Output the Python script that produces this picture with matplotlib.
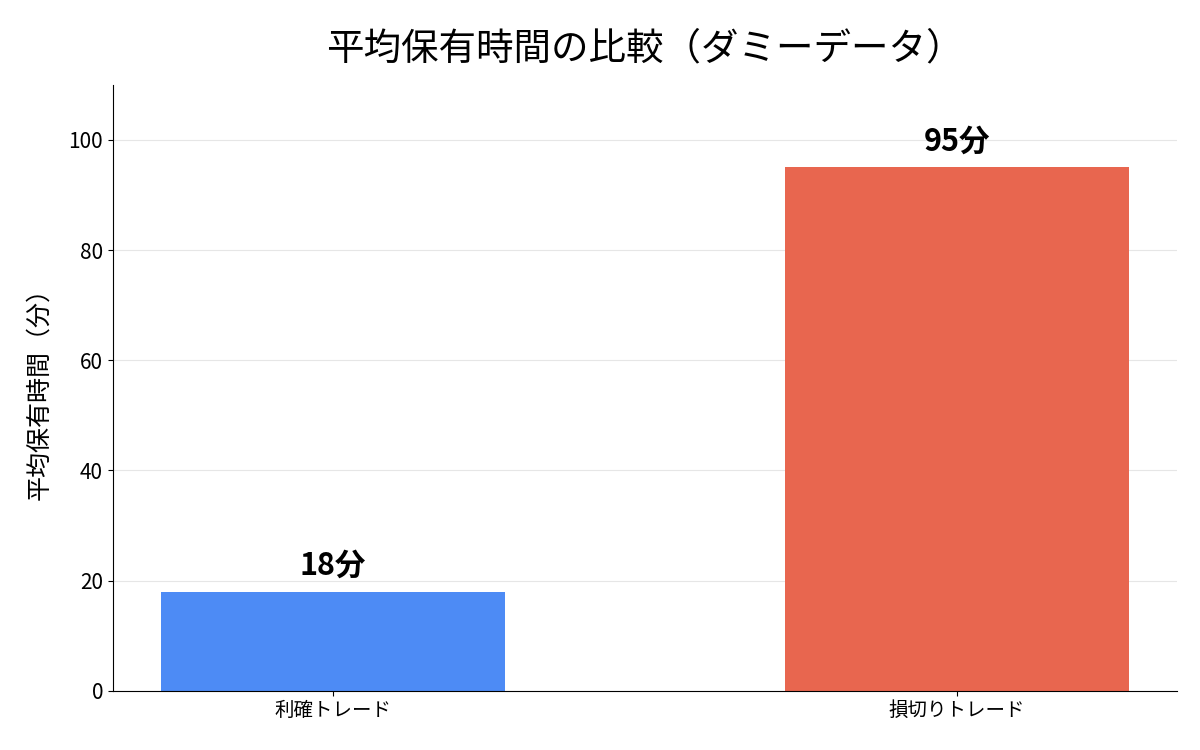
import matplotlib
matplotlib.use('Agg')
import matplotlib.pyplot as plt

plt.rcParams['font.family'] = ['Noto Sans CJK JP', 'DejaVu Sans']

categories = ['利確トレード', '損切りトレード']
hold_minutes = [18, 95]
bar_colors = ['#4d8bf5', '#e8664f']

fig, ax = plt.subplots(figsize=(12, 7.5), dpi=100)

bars = ax.bar(categories, hold_minutes, width=0.55, color=bar_colors)

for bar, v in zip(bars, hold_minutes):
    ax.text(bar.get_x() + bar.get_width() / 2, v + 1.8, f'{v}分',
            ha='center', va='bottom', fontsize=22, fontweight='bold')

ax.set_ylim(0, 110)
ax.set_ylabel('平均保有時間（分）', fontsize=18, labelpad=12)
ax.set_title('平均保有時間の比較（ダミーデータ）', fontsize=27, pad=18)
ax.yaxis.grid(True, color='#e6e6e6', linewidth=0.8)
ax.set_axisbelow(True)
ax.spines['top'].set_visible(False)
ax.spines['right'].set_visible(False)
ax.tick_params(axis='y', labelsize=15)
ax.tick_params(axis='x', labelsize=14)

fig.subplots_adjust(left=0.094, right=0.981, top=0.887, bottom=0.079)
fig.savefig('out.png')
